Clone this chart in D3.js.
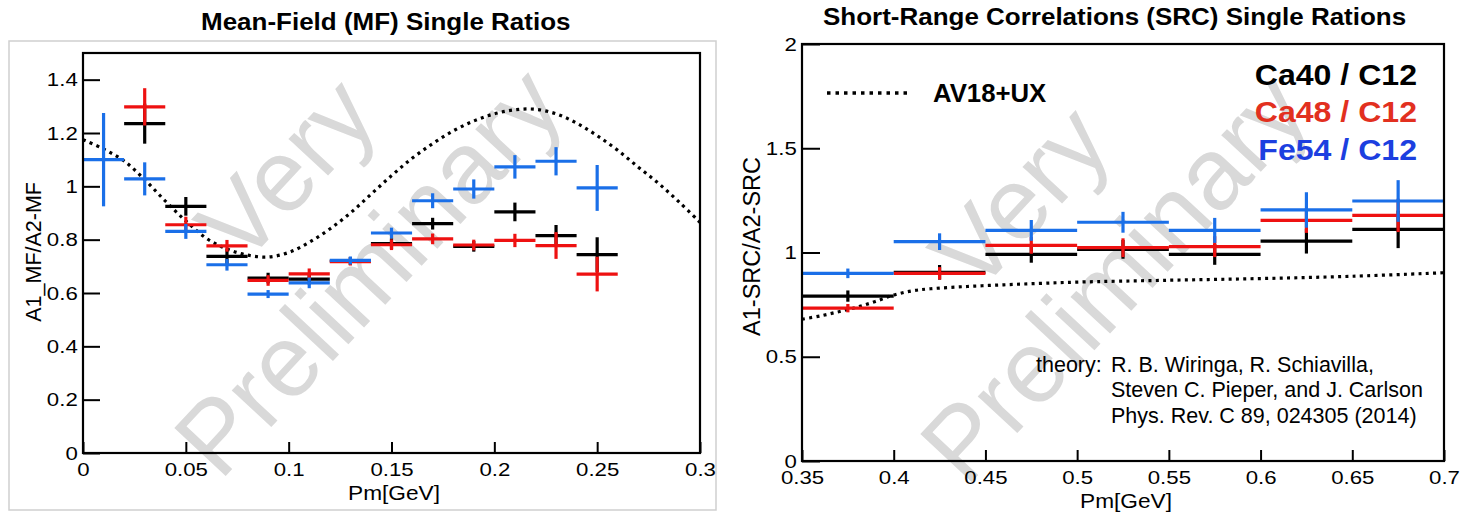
<!DOCTYPE html>
<html><head><meta charset="utf-8">
<script src="https://cdn.jsdelivr.net/npm/d3@7"></script>
<style>
body{margin:0;background:#fff}
text{font-family:"Liberation Sans",Arial,Helvetica,sans-serif}
</style>
</head><body>
<svg id="c" width="1464" height="515" xmlns="http://www.w3.org/2000/svg"></svg>
<script>
// ---------------- DATA ----------------
// Mean-field panel
const mfBins = [0.01,0.03,0.05,0.07,0.09,0.11,0.13,0.15,0.17,0.19,0.21,0.23,0.25];
const mfBinWidth = 0.02;
const mfCa40    = [null,1.235,0.925,0.737,0.656,0.652,0.720,0.785,0.860,0.775,0.904,0.815,0.744];
const mfCa40Err = [null,0.075,0.035,0.030,0.020,0.020,0.015,0.020,0.022,0.020,0.035,0.040,0.065];
const mfCa48    = [null,1.298,0.856,0.777,0.647,0.672,0.718,0.781,0.803,0.780,0.797,0.778,0.671];
const mfCa48Err = [null,0.070,0.030,0.022,0.020,0.020,0.015,0.020,0.020,0.020,0.025,0.050,0.065];
const mfFe54    = [1.100,1.028,0.831,0.706,0.596,0.638,0.722,0.825,0.946,0.990,1.073,1.094,0.994];
const mfFe54Err = [0.175,0.062,0.028,0.022,0.015,0.020,0.015,0.020,0.028,0.036,0.044,0.053,0.086];
const mfTheoryX = [0,0.01,0.02,0.03,0.04,0.05,0.06,0.07,0.08,0.09,0.10,0.11,0.12,0.13,0.14,0.15,0.16,0.17,0.18,0.19,0.20,0.21,0.22,0.23,0.24,0.25,0.26,0.27,0.28,0.29,0.30];
const mfTheoryY = [1.175,1.140,1.095,1.025,0.945,0.870,0.805,0.765,0.742,0.735,0.752,0.790,0.840,0.900,0.970,1.040,1.105,1.160,1.208,1.245,1.272,1.287,1.289,1.272,1.237,1.190,1.135,1.072,1.010,0.940,0.865];
const mfXTicks = [0,0.05,0.1,0.15,0.2,0.25,0.3];
const mfYTicks = [0,0.2,0.4,0.6,0.8,1,1.2,1.4];

// SRC panel
const srcBins = [0.375,0.425,0.475,0.525,0.575,0.625,0.675];
const srcBinWidth = 0.05;
const srcCa40    = [0.791,0.905,0.991,1.015,0.991,1.055,1.111];
const srcCa40Err = [0.027,0.035,0.040,0.045,0.050,0.060,0.090];
const srcCa48    = [0.733,0.900,1.034,1.023,1.028,1.154,1.178];
const srcCa48Err = [0.020,0.030,0.040,0.045,0.050,0.060,0.080];
const srcFe54    = [0.900,1.052,1.106,1.145,1.106,1.204,1.247];
const srcFe54Err = [0.023,0.040,0.050,0.050,0.060,0.085,0.100];
const srcTheoryX = [0.35,0.36,0.37,0.38,0.39,0.40,0.41,0.42,0.44,0.46,0.48,0.50,0.55,0.60,0.65,0.70];
const srcTheoryY = [0.680,0.696,0.716,0.738,0.765,0.796,0.816,0.826,0.837,0.845,0.852,0.858,0.867,0.875,0.886,0.903];
const srcXTicks = [0.35,0.4,0.45,0.5,0.55,0.6,0.65,0.7];
const srcYTicks = [0,0.5,1,1.5,2];

const legendLabels = ["Ca40 / C12","Ca48 / C12","Fe54 / C12"];
const theoryLabel = "AV18+UX";
const theoryRef = ["R. B. Wiringa, R. Schiavilla,","Steven C. Pieper, and J. Carlson","Phys. Rev. C 89, 024305 (2014)"];

// ---------------- STYLE ----------------
const dataColors = ["#000000","#ee1111","#1a6fe8"];
const legendColors = ["#000000","#e2301f","#1c3fe0"];
const WM = "#d9d9d9";

const svg = d3.select("#c");

function stext(g, x, y, s, o) {
  o = o || {};
  return g.append("text")
    .attr("transform", `translate(${x},${y}) rotate(${o.rot||0}) scale(${o.sx||1},1)`)
    .attr("font-size", o.size || 20)
    .attr("font-weight", o.bold ? "bold" : "normal")
    .attr("text-anchor", o.anchor || "start")
    .attr("fill", o.fill || "#000")
    .text(s);
}

function panel(p) {
  const g = svg.append("g");
  const x = d3.scaleLinear().domain(p.xDom).range([p.L, p.R]);
  const y = d3.scaleLinear().domain(p.yDom).range([p.B, p.T]);

  // watermark
  stext(g, p.wmP[0], p.wmP[1], "Preliminary", {size: 102, rot: -47, fill: WM});
  stext(g, p.wmV[0], p.wmV[1], "Very", {size: 102, rot: -47, fill: WM});

  // axes
  const ya = d3.axisLeft(y).tickValues(p.yTicks).tickFormat(d => String(d))
    .tickSize(-p.yTickLen).tickPadding(4.5);
  const yg = g.append("g").attr("transform", `translate(${p.L},0)`).call(ya);
  const xa = d3.axisBottom(x).tickValues(p.xTicks).tickFormat(d => String(d))
    .tickSize(-p.xTickLen).tickPadding(10);
  const xg = g.append("g").attr("transform", `translate(0,${p.B})`).call(xa);
  [yg, xg].forEach(a => {
    a.select(".domain").remove();
    a.selectAll(".tick line").attr("stroke", "#000").attr("stroke-width", 2);
    a.selectAll(".tick text").attr("font-size", 19).attr("fill", "#000")
      .attr("font-family", '"Liberation Sans",Arial,sans-serif')
      .attr("transform", "scale(1.17,1)");
  });

  // theory curve
  const line = d3.line().x(d => x(d[0])).y(d => y(d[1])).curve(d3.curveCatmullRom);
  g.append("path").datum(d3.zip(p.thX, p.thY)).attr("d", line)
    .attr("fill", "none").attr("stroke", "#000").attr("stroke-width", 3.2)
    .attr("stroke-dasharray", "3,4.3");

  // data
  p.series.forEach((s, k) => {
    const c = dataColors[k];
    p.bins.forEach((b, i) => {
      const v = s.v[i], e = s.e[i];
      if (v == null) return;
      g.append("line").attr("x1", x(b - p.bw/2)).attr("x2", x(b + p.bw/2))
        .attr("y1", y(v)).attr("y2", y(v)).attr("stroke", c).attr("stroke-width", 3.2);
      g.append("line").attr("x1", x(b)).attr("x2", x(b))
        .attr("y1", y(v - e)).attr("y2", y(v + e)).attr("stroke", c).attr("stroke-width", 3.2);
    });
  });

  // frame
  g.append("rect").attr("x", p.L).attr("y", p.T).attr("width", p.R - p.L).attr("height", p.B - p.T)
    .attr("fill", "none").attr("stroke", "#000").attr("stroke-width", 2.2);

  // labels
  stext(g, p.title[0], p.title[1], p.titleText, {size: 23, bold: true, sx: 1.13});
  stext(g, p.xlab[0], p.xlab[1], "Pm[GeV]", {size: 21, sx: 1.08, anchor: "end"});
  stext(g, p.ylab[0], p.ylab[1], p.ylabText, {size: p.ylabSize, rot: -90, anchor: "end"});
  return {g, x, y};
}

// outer frame of left pad
svg.append("rect").attr("x", 9).attr("y", 41).attr("width", 707).attr("height", 469)
  .attr("fill", "none").attr("stroke", "#cfcfcf").attr("stroke-width", 1.5);

panel({
  xDom: [0, 0.3], yDom: [0, 1.5], L: 83, R: 700, T: 53, B: 453,
  xTicks: mfXTicks, yTicks: mfYTicks, xTickLen: 11, yTickLen: 17,
  bins: mfBins, bw: mfBinWidth,
  series: [{v: mfCa40, e: mfCa40Err}, {v: mfCa48, e: mfCa48Err}, {v: mfFe54, e: mfFe54Err}],
  thX: mfTheoryX, thY: mfTheoryY,
  wmP: [220, 482], wmV: [242, 268],
  title: [201, 30], titleText: "Mean-Field (MF) Single Ratios",
  xlab: [440, 500], ylab: [41, 182], ylabText: "A1_MF/A2-MF", ylabSize: 21.5
});

panel({
  xDom: [0.35, 0.7], yDom: [0, 2], L: 802, R: 1444, T: 44, B: 461,
  xTicks: srcXTicks, yTicks: srcYTicks, xTickLen: 11, yTickLen: 18,
  bins: srcBins, bw: srcBinWidth,
  series: [{v: srcCa40, e: srcCa40Err}, {v: srcCa48, e: srcCa48Err}, {v: srcFe54, e: srcFe54Err}],
  thX: srcTheoryX, thY: srcTheoryY,
  wmP: [966, 488], wmV: [976, 296],
  title: [823, 25], titleText: "Short-Range Correlations (SRC) Single Rations",
  xlab: [1172, 508], ylab: [760, 157], ylabText: "A1-SRC/A2-SRC", ylabSize: 23.5
});

// legend (right panel)
const lg = svg.append("g");
lg.append("line").attr("x1", 827).attr("x2", 912).attr("y1", 93).attr("y2", 93)
  .attr("stroke", "#000").attr("stroke-width", 3.5).attr("stroke-dasharray", "3.5,5");
stext(lg, 933, 102, theoryLabel, {size: 25, bold: true, sx: 1.03});
const legY = [85, 122, 160];
legendLabels.forEach((s, i) => {
  stext(lg, 1417, legY[i], s, {size: 30, bold: true, sx: 1.07, anchor: "end", fill: legendColors[i]});
});
stext(lg, 1036, 372, "theory:", {size: 21.5});
const refY = [372, 397, 423];
theoryRef.forEach((s, i) => stext(lg, 1111, refY[i], s, {size: 21.5}));
</script>
</body></html>
